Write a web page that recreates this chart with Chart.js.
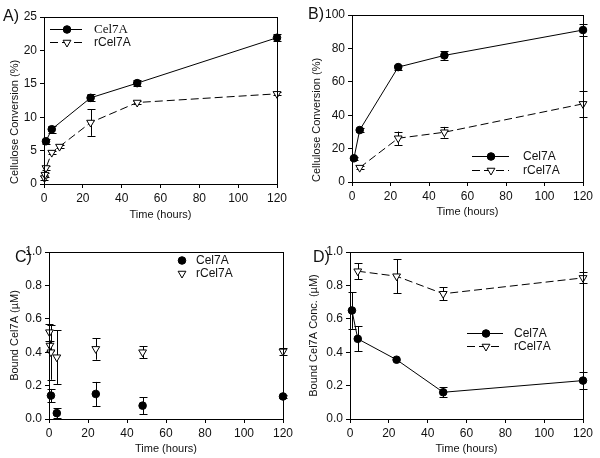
<!DOCTYPE html>
<html><head><meta charset="utf-8">
<script src="https://cdn.jsdelivr.net/npm/chart.js@4"></script>
<style>
body{margin:0;background:#fff;}
#wrap{position:relative;width:600px;height:458px;background:#fff;}
canvas{position:absolute;}
</style></head><body>
<div id="wrap">
<canvas id="cA" width="300" height="229" style="left:0;top:0"></canvas>
<canvas id="cB" width="300" height="229" style="left:300px;top:0"></canvas>
<canvas id="cC" width="300" height="229" style="left:0;top:229px"></canvas>
<canvas id="cD" width="300" height="229" style="left:300px;top:229px"></canvas>
</div>
<script>
// ---------- data ----------
const seriesNames = ['Cel7A', 'rCel7A'];
const xTickValues = [0, 20, 40, 60, 80, 100, 120];
const yTicksA = [0, 5, 10, 15, 20, 25];
const yTicksB = [0, 20, 40, 60, 80, 100];
const yTicksCD = [0, 0.2, 0.4, 0.6, 0.8, 1.0];
const yTickLabelsCD = ['0.0', '0.2', '0.4', '0.6', '0.8', '1.0'];

// Panel A: cellulose conversion (%)
const timeA_cel = [1, 4, 24, 48, 120];
const convA_cel = [6.4, 8.2, 12.9, 15.1, 21.9];
const errA_cel  = [0.4, 0.5, 0.5, 0.5, 0.5];
const timeA_r = [0.25, 0.5, 1, 4, 8, 24, 48, 120];
const convA_r = [0.9, 1.4, 2.4, 4.7, 5.6, 9.2, 12.2, 13.5];
const errA_r  = [0.3, 0.3, 0.3, 0.2, 0.2, 2.0, 0.2, 0.2];

// Panel B: cellulose conversion (%)
const timeB_cel = [1, 4, 24, 48, 120];
const convB_cel = [14.2, 31.1, 68.8, 75.8, 91.0];
const errB_cel  = [1.0, 1.0, 1.5, 2.5, 3.6];
const timeB_r = [4, 24, 48, 120];
const convB_r = [8.6, 26.2, 29.8, 46.8];
const errB_r  = [0.8, 4.0, 3.2, 7.8];

// Panel C: bound Cel7A (uM)
const timeC_cel = [1, 4, 24, 48, 120];
const boundC_cel = [0.14, 0.035, 0.15, 0.08, 0.135];
const errC_cel   = [0.04, 0.03, 0.072, 0.05, 0.01];
const timeC_r = [0.25, 0.5, 1, 4, 24, 48, 120];
const boundC_r = [0.52, 0.44, 0.40, 0.37, 0.42, 0.40, 0.405];
const errC_r   = [0.05, 0.03, 0.165, 0.16, 0.065, 0.035, 0.02];

// Panel D: bound Cel7A conc. (uM)
const timeD_cel = [1, 4, 24, 48, 120];
const boundD_cel = [0.65, 0.48, 0.355, 0.16, 0.23];
const errD_cel   = [0.11, 0.075, 0.0, 0.03, 0.05];
const timeD_r = [4, 24, 48, 120];
const boundD_r = [0.885, 0.855, 0.75, 0.845];
const errD_r   = [0.048, 0.103, 0.038, 0.033];

// ---------- helpers ----------
const FONT = 'Liberation Sans, Arial, sans-serif';
const TXT = '#111';
const pts = (t, v) => t.map((x, i) => ({x: x, y: v[i]}));

function markerPath(ctx, style, x, y, r) {
  ctx.beginPath();
  if (style === 'circle') {
    ctx.arc(x, y, r, 0, Math.PI * 2);
  } else {
    ctx.moveTo(x, y + r);
    ctx.lineTo(x - r * 0.866, y - r * 0.5);
    ctx.lineTo(x + r * 0.866, y - r * 0.5);
    ctx.closePath();
  }
}

const deco = {
  id: 'deco',
  beforeDatasetsDraw(chart, args, o) {
    const ctx = chart.ctx, xs = chart.scales.x, ys = chart.scales.y;
    ctx.save();
    ctx.strokeStyle = '#000';
    ctx.lineWidth = 1;
    chart.data.datasets.forEach(ds => {
      if (!ds.errors) return;
      ds.data.forEach((p, j) => {
        const e = ds.errors[j];
        if (!e) return;
        const x = Math.round(xs.getPixelForValue(p.x)) + 0.5;
        const y1 = ys.getPixelForValue(p.y + e);
        const y2 = ys.getPixelForValue(p.y - e);
        ctx.beginPath();
        ctx.moveTo(x, y1); ctx.lineTo(x, y2);
        ctx.moveTo(x - 4, Math.round(y1) + 0.5); ctx.lineTo(x + 4, Math.round(y1) + 0.5);
        ctx.moveTo(x - 4, Math.round(y2) + 0.5); ctx.lineTo(x + 4, Math.round(y2) + 0.5);
        ctx.stroke();
      });
    });
    ctx.restore();
  },
  afterDraw(chart, args, o) {
    const ctx = chart.ctx, a = chart.chartArea;
    ctx.save();
    // frame
    ctx.strokeStyle = '#000';
    ctx.lineWidth = 1;
    ctx.strokeRect(Math.round(a.left) + 0.5, Math.round(a.top) + 0.5,
                   Math.round(a.right - a.left), Math.round(a.bottom - a.top));
    // panel label
    ctx.fillStyle = TXT;
    ctx.font = '16px ' + FONT;
    ctx.textAlign = 'left';
    ctx.textBaseline = 'middle';
    ctx.fillText(o.label, o.labelX, o.labelY);
    // legend
    const L = o.legend;
    chart.data.datasets.forEach((ds, i) => {
      const y = L.rows[i] + 0.5;
      if (L.line) {
        ctx.beginPath();
        ctx.setLineDash(ds.borderDash || []);
        ctx.moveTo(L.x0, y); ctx.lineTo(L.x1, y);
        ctx.strokeStyle = '#000';
        ctx.stroke();
        ctx.setLineDash([]);
      }
      markerPath(ctx, ds.pointStyle, L.mx, y, ds.pointRadius);
      ctx.fillStyle = ds.pointBackgroundColor;
      ctx.fill();
      ctx.strokeStyle = '#000';
      ctx.stroke();
      ctx.fillStyle = TXT;
      ctx.font = (L.fonts ? L.fonts[i] : '12px ' + FONT);
      ctx.textAlign = 'left';
      ctx.textBaseline = 'middle';
      ctx.fillText(ds.label, L.tx, y);
    });
    ctx.restore();
  }
};

function makeChart(id, p) {
  const datasets = [
    {
      label: seriesNames[0], data: p.cel, errors: p.celErr,
      showLine: p.lines, borderColor: '#000', borderWidth: 1,
      pointStyle: 'circle', pointRadius: 3.8, pointBackgroundColor: '#000',
      pointBorderColor: '#000', pointBorderWidth: 1, clip: false, tension: 0
    },
    {
      label: seriesNames[1], data: p.r, errors: p.rErr,
      showLine: p.lines, borderColor: '#000', borderWidth: 1, borderDash: [8, 4],
      pointStyle: 'triangle', pointRotation: 180, pointRadius: 4.5,
      pointBackgroundColor: '#fff', pointBorderColor: '#000', pointBorderWidth: 1,
      clip: false, tension: 0
    }
  ];
  return new Chart(document.getElementById(id), {
    type: 'scatter',
    data: {datasets: datasets},
    options: {
      responsive: false, animation: false, devicePixelRatio: 1,
      layout: {padding: {top: p.top, right: p.right, left: 0, bottom: 0}},
      plugins: {
        legend: {display: false}, tooltip: {enabled: false},
        deco: {label: p.label, labelX: p.labelX, labelY: p.labelY, legend: p.legend}
      },
      scales: {
        x: {
          type: 'linear', min: 0, max: 120,
          afterBuildTicks: s => { s.ticks = xTickValues.map(v => ({value: v})); },
          ticks: {font: {family: FONT, size: 12}, color: TXT, padding: 3, maxRotation: 0},
          grid: {drawOnChartArea: false, tickLength: 4, color: '#000'},
          border: {display: false},
          title: {display: true, text: 'Time (hours)', color: TXT,
                  font: {family: FONT, size: 11}, padding: {top: 0, bottom: p.xtPad}},
          afterFit: s => { s.height = p.xH; }
        },
        y: {
          type: 'linear', min: 0, max: p.yMax,
          afterBuildTicks: s => { s.ticks = p.yTicks.map(v => ({value: v})); },
          ticks: {font: {family: FONT, size: 12}, color: TXT, padding: 3,
                  autoSkip: false,
                  callback: (v, i) => p.yLabels[i]},
          grid: {drawOnChartArea: false, tickLength: 4, color: '#000'},
          border: {display: false},
          title: {display: true, text: p.yTitle, color: TXT, align: p.yAlign,
                  font: {family: FONT, size: 11}, padding: {top: p.ytPad, bottom: 0}},
          afterFit: s => { s.width = p.yW; }
        }
      }
    },
    plugins: [deco]
  });
}

makeChart('cA', {
  cel: pts(timeA_cel, convA_cel), celErr: errA_cel,
  r: pts(timeA_r, convA_r), rErr: errA_r, lines: true,
  yMax: 25, yTicks: yTicksA, yLabels: yTicksA.map(String),
  yTitle: 'Cellulose Conversion (%)', yAlign: 'start',
  top: 17, right: 23, yW: 44, xH: 45, xtPad: 7, ytPad: 8,
  label: 'A)', labelX: 3, labelY: 17,
  legend: {line: true, x0: 50, x1: 82, mx: 67, tx: 94, rows: [29, 42],
           fonts: ['13px Liberation Serif, Times New Roman, serif', '12px ' + FONT]}
});
makeChart('cB', {
  cel: pts(timeB_cel, convB_cel), celErr: errB_cel,
  r: pts(timeB_r, convB_r), rErr: errB_r, lines: true,
  yMax: 100, yTicks: yTicksB, yLabels: yTicksB.map(String),
  yTitle: 'Cellulose Conversion (%)', yAlign: 'start',
  top: 15, right: 17, yW: 52, xH: 47, xtPad: 10, ytPad: 10,
  label: 'B)', labelX: 8, labelY: 15,
  legend: {line: true, x0: 172, x1: 209, mx: 191, tx: 223, rows: [156, 170]}
});
makeChart('cC', {
  cel: pts(timeC_cel, boundC_cel), celErr: errC_cel,
  r: pts(timeC_r, boundC_r), rErr: errC_r, lines: false,
  yMax: 1.0, yTicks: yTicksCD, yLabels: yTickLabelsCD,
  yTitle: 'Bound Cel7A (\u00b5M)', yAlign: 'center',
  top: 23, right: 17, yW: 49, xH: 39, xtPad: 2, ytPad: 8,
  label: 'C)', labelX: 15, labelY: 29,
  legend: {line: false, mx: 182, tx: 196, rows: [31, 44]}
});
makeChart('cD', {
  cel: pts(timeD_cel, boundD_cel), celErr: errD_cel,
  r: pts(timeD_r, boundD_r), rErr: errD_r, lines: true,
  yMax: 1.0, yTicks: yTicksCD, yLabels: yTickLabelsCD,
  yTitle: 'Bound Cel7A Conc. (\u00b5M)', yAlign: 'center',
  top: 23, right: 17, yW: 50, xH: 39, xtPad: 2, ytPad: 7,
  label: 'D)', labelX: 13, labelY: 29,
  legend: {line: true, x0: 167, x1: 203, mx: 186, tx: 214, rows: [104, 117]}
});
</script>
</body></html>
